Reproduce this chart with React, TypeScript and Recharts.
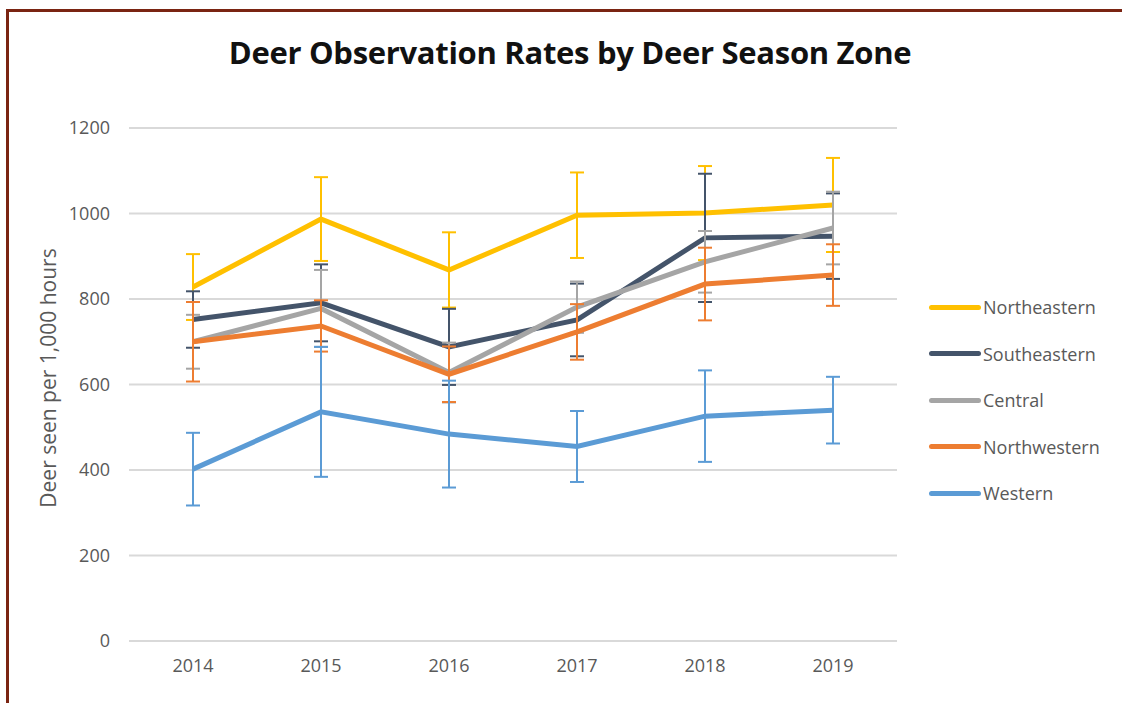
import { LineChart, Line, XAxis, YAxis, CartesianGrid, ErrorBar } from 'recharts';

const years = ['2014', '2015', '2016', '2017', '2018', '2019'];
const yTicks = [0, 200, 400, 600, 800, 1000, 1200];

const northeastern = [828, 987, 868, 996, 1001, 1020];
const northeasternErr = [77, 98, 88, 100, 110, 110];
const southeastern = [752, 791, 688, 751, 943, 947];
const southeasternErr = [66, 90, 89, 85, 150, 100];
const central = [700, 778, 628, 781, 887, 966];
const centralErr = [63, 90, 70, 60, 72, 85];
const northwestern = [700, 737, 624, 723, 835, 856];
const northwesternErr = [93, 60, 65, 65, 85, 72];
const western = [402, 536, 484, 455, 526, 540];
const westernErr = [85, 152, 125, 83, 107, 78];

const series = [
  { key: 'ne', name: 'Northeastern', color: '#FFC000', values: northeastern, errs: northeasternErr },
  { key: 'se', name: 'Southeastern', color: '#44546A', values: southeastern, errs: southeasternErr },
  { key: 'ce', name: 'Central', color: '#A5A5A5', values: central, errs: centralErr },
  { key: 'nw', name: 'Northwestern', color: '#ED7D31', values: northwestern, errs: northwesternErr },
  { key: 'we', name: 'Western', color: '#5B9BD5', values: western, errs: westernErr },
];

const data = years.map((year, i) => {
  const row: Record<string, any> = { year };
  series.forEach(s => {
    row[s.key] = s.values[i];
    row[s.key + 'Err'] = s.errs[i];
  });
  return row;
});

const font = '"Open Sans", sans-serif';

// legend sits outside the chart so it doesn't shrink the plot area
function LegendList() {
  return (
    <div style={{ position: 'absolute', left: 929, top: 284 }}>
      {series.map(s => (
        <div key={s.key} style={{ display: 'flex', alignItems: 'center', height: 46.5 }}>
          <div style={{ width: 52, height: 5, borderRadius: 3, background: s.color }} />
          <span style={{ fontFamily: font, fontSize: 18, color: '#595959', marginLeft: 2 }}>{s.name}</span>
        </div>
      ))}
    </div>
  );
}

export default function App() {
  return (
    <div style={{ position: 'absolute', left: 0, top: 0, width: 1122, height: 703, overflow: 'hidden', background: '#fff' }}>
      <div
        style={{
          position: 'absolute', left: 6, top: 9, width: 1200, height: 800,
          borderTop: '3px solid #7A2412', borderLeft: '3px solid #7A2412',
        }}
      />
      <div
        style={{
          position: 'absolute', left: 0, top: 30, width: 1140, textAlign: 'center',
          fontFamily: font, fontWeight: 700, fontSize: 31, color: '#111', lineHeight: '44px',
          letterSpacing: -0.3,
        }}
      >
        Deer Observation Rates by Deer Season Zone
      </div>
      <div
        style={{
          position: 'absolute', left: 48, top: 378, transform: 'translate(-50%, -50%) rotate(-90deg)',
          fontFamily: font, fontSize: 21, color: '#595959', whiteSpace: 'nowrap',
        }}
      >
        Deer seen per 1,000 hours
      </div>
      <div style={{ position: 'absolute', left: 0, top: 0 }}>
        <LineChart width={1122} height={703} data={data} margin={{ top: 128, right: 225, bottom: 0, left: 0 }}>
          <CartesianGrid vertical={false} stroke="#D9D9D9" strokeWidth={2} />
          <XAxis
            dataKey="year"
            padding={{ left: 64, right: 64 }}
            height={62}
            axisLine={false}
            tickLine={false}
            tickSize={0}
            tickMargin={18}
            tick={{ fontFamily: font, fontSize: 18, fill: '#595959' }}
          />
          <YAxis
            width={129}
            domain={[0, 1200]}
            ticks={yTicks}
            axisLine={false}
            tickLine={false}
            tickSize={0}
            tickMargin={19}
            tick={{ fontFamily: font, fontSize: 18, fill: '#595959' }}
          />
          {series.map(s => (
            <Line
              key={s.key}
              dataKey={s.key}
              name={s.name}
              stroke={s.color}
              strokeWidth={5}
              dot={false}
              activeDot={false}
              isAnimationActive={false}
            >
              <ErrorBar dataKey={s.key + 'Err'} direction="y" width={7} stroke={s.color} strokeWidth={2} isAnimationActive={false} />
            </Line>
          ))}
        </LineChart>
      </div>
      <LegendList />
    </div>
  );
}
